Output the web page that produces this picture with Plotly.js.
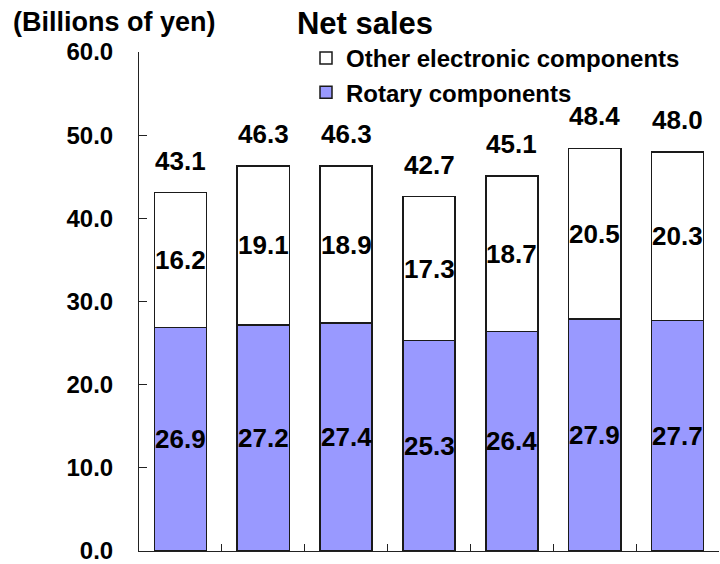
<!DOCTYPE html>
<html>
<head>
<meta charset="utf-8">
<script src="https://cdn.plot.ly/plotly-3.0.1.min.js"></script>
<style>html,body{margin:0;padding:0;background:#fff;}#chart{width:720px;height:564px;}</style>
</head>
<body>
<div id="chart"></div>
<script>
var categories = ["1", "2", "3", "4", "5", "6", "7"];
var rotary = [26.9, 27.2, 27.4, 25.3, 26.4, 27.9, 27.7];
var other = [16.2, 19.1, 18.9, 17.3, 18.7, 20.5, 20.3];
var totalLabels = ["43.1", "46.3", "46.3", "42.7", "45.1", "48.4", "48.0"];
var yTicks = [0, 10, 20, 30, 40, 50, 60];
var seriesNames = ["Rotary components", "Other electronic components"];

var FONT = "Liberation Sans, Arial, Helvetica, sans-serif";
var xs = categories.map(function (c, i) { return i; });

var traces = [
  {
    type: "bar", name: seriesNames[0], x: xs, y: rotary,
    marker: { color: "#9999FF", line: { color: "#1a1a1a", width: 1.5 } },
    hoverinfo: "skip"
  },
  {
    type: "bar", name: seriesNames[1], x: xs, y: other,
    marker: { color: "#FFFFFF", line: { color: "#1a1a1a", width: 1.5 } },
    hoverinfo: "skip"
  }
];

var L = 139, R = 1, T = 52, B = 13, W = 720, H = 564;
var pw = W - L - R, ph = H - T - B;

var annotations = [];
var labFont = { family: FONT, size: 26, color: "#000", weight: "bold" };
xs.forEach(function (x, i) {
  annotations.push({ x: x, y: rotary[i] / 2, xref: "x", yref: "y", text: rotary[i].toFixed(1),
    showarrow: false, font: labFont, xanchor: "center", yanchor: "middle" });
  annotations.push({ x: x, y: rotary[i] + other[i] / 2, xref: "x", yref: "y", text: other[i].toFixed(1),
    showarrow: false, font: labFont, xanchor: "center", yanchor: "middle" });
  annotations.push({ x: x, y: rotary[i] + other[i], xref: "x", yref: "y", text: totalLabels[i],
    showarrow: false, font: labFont, xanchor: "center", yanchor: "middle", yshift: 32 });
});
annotations.push({ x: (11 - L) / pw, y: (H - B - 22) / ph, xref: "paper", yref: "paper",
  text: "(Billions of yen)", showarrow: false,
  font: { family: FONT, size: 27, color: "#000", weight: "bold" }, xanchor: "left", yanchor: "middle" });

var layout = {
  width: W, height: H,
  margin: { l: L, r: R, t: T, b: B, pad: 0 },
  paper_bgcolor: "#fff", plot_bgcolor: "#fff",
  barmode: "stack", bargap: 0.37,
  font: { family: FONT, color: "#000" },
  title: { text: "Net sales", font: { family: FONT, size: 31, color: "#000", weight: "bold" },
    x: 365 / W, xanchor: "center", y: 1 - 23 / H, yanchor: "middle" },
  showlegend: true,
  legend: { x: (306 - L) / pw, y: (H - B - 36) / ph, xanchor: "left", yanchor: "top",
    traceorder: "reversed", bgcolor: "rgba(0,0,0,0)",
    font: { family: FONT, size: 24, color: "#000", weight: "bold" } },
  xaxis: { range: [-0.5, 6.5], showgrid: false, zeroline: false, showline: true, linecolor: "#222", linewidth: 1,
    tickmode: "array", tickvals: xs.map(function (x) { return x + 0.5; }), ticks: "inside", ticklen: 7,
    tickcolor: "#222", showticklabels: false, fixedrange: true },
  yaxis: { range: [0, 60], showgrid: false, zeroline: false, showline: true, linecolor: "#222", linewidth: 1,
    tickmode: "array", tickvals: yTicks, ticktext: yTicks.map(function (v) { return v.toFixed(1); }),
    ticks: "inside", ticklen: 8, tickcolor: "#222", ticklabelstandoff: 20, ticklabeloverflow: "allow",
    tickfont: { family: FONT, size: 24, color: "#000", weight: "bold" }, fixedrange: true },
  annotations: annotations
};

Plotly.newPlot("chart", traces, layout, { displayModeBar: false, staticPlot: true });
</script>
</body>
</html>
